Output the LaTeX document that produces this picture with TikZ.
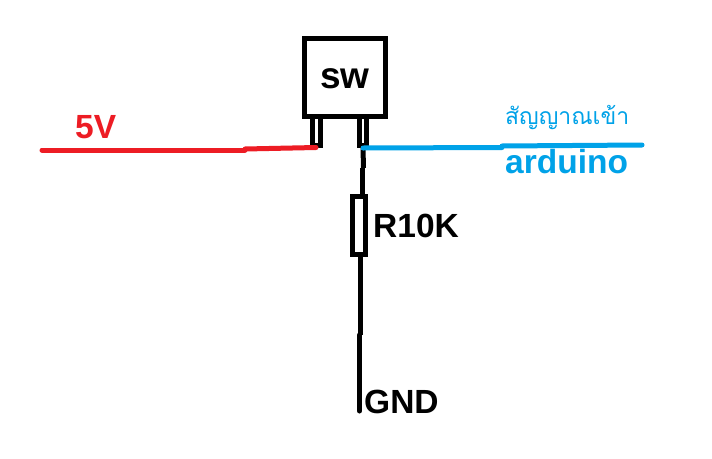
\documentclass[tikz,border=0pt]{standalone}
\usepackage{fontspec}
\setmainfont{Liberation Sans}
\newfontfamily\thaifont[Script=Thai]{Loma}
\definecolor{paintred}{HTML}{ED1C24}
\definecolor{paintblue}{HTML}{00A2E8}
\tikzset{
  lbl/.style={inner sep=0pt,anchor=base west,font=\fontsize{33.5}{36}\selectfont\bfseries},
  part/.style={draw=black,line width=5pt,fill=white,inner sep=0pt,minimum width=#1},
  wire/.style={line width=5pt,line cap=round,line join=round},
}
\begin{document}
\begin{tikzpicture}[x=1pt,y=-1pt]
\useasboundingbox (0,0) rectangle (712,458);
\fill[white] (0,0) rectangle (712,458);
% pins
\node[part=7.5pt,minimum height=32pt] (pinl) at (316.5,129) {};
\node[part=7.5pt,minimum height=32pt] (pinr) at (363,129) {};
% switch body
\node[part=81.5pt,minimum height=78.5pt] (sw) at (345,77.5) {};
\node[lbl,font=\fontsize{37}{40}\selectfont\bfseries] (swt) at (320,88) {sw};
% named ends
\coordinate (jr) at (363,148);
\coordinate (jl) at (316,147.5);
\coordinate (rtop) at (362.5,196);
\coordinate (rbot) at (360.5,255);
\coordinate (kink) at (363.5,168);
\coordinate (kinkb) at (362.5,168);
\coordinate (low) at (360.5,335);
\coordinate (lowb) at (359.5,335);
\coordinate (gnd) at (359.5,411);
\coordinate (vcc) at (42,150);
\coordinate (rmid) at (245,150);
\coordinate (rmidb) at (245,149);
\coordinate (bmid) at (502,147.5);
\coordinate (bmidb) at (502,146);
\coordinate (out) at (642,145);
% wires
\draw[wire,line cap=butt] (jr) -- (kink);
\draw[wire,line cap=butt] (kinkb) -- (rtop);
\draw[wire,line cap=butt] (rbot) -- (low);
\draw[wire] (lowb) -- (gnd);
% resistor
\node[part=13pt,minimum height=58pt] (res) at (359,225.5) {};
\draw[wire,paintred] (vcc) -- (rmid);
\draw[wire,paintred] (rmidb) -- (jl);
\draw[wire,paintblue] (jr) -- (bmid);
\draw[wire,paintblue] (bmidb) -- (out);
\node[lbl,paintred] (v5) at (75,138) {5V};
\node[lbl] (r10k) at (373,237) {R10K};
\node[lbl] (gndt) at (364,413) {GND};
\node[lbl,paintblue] (ard) at (505,173) {arduino};
\node[inner sep=0pt,anchor=base west,paintblue,font=\thaifont\fontsize{23}{26}\selectfont] (sig) at (505,124) {สัญญาณเข้า};
\end{tikzpicture}
\end{document}
